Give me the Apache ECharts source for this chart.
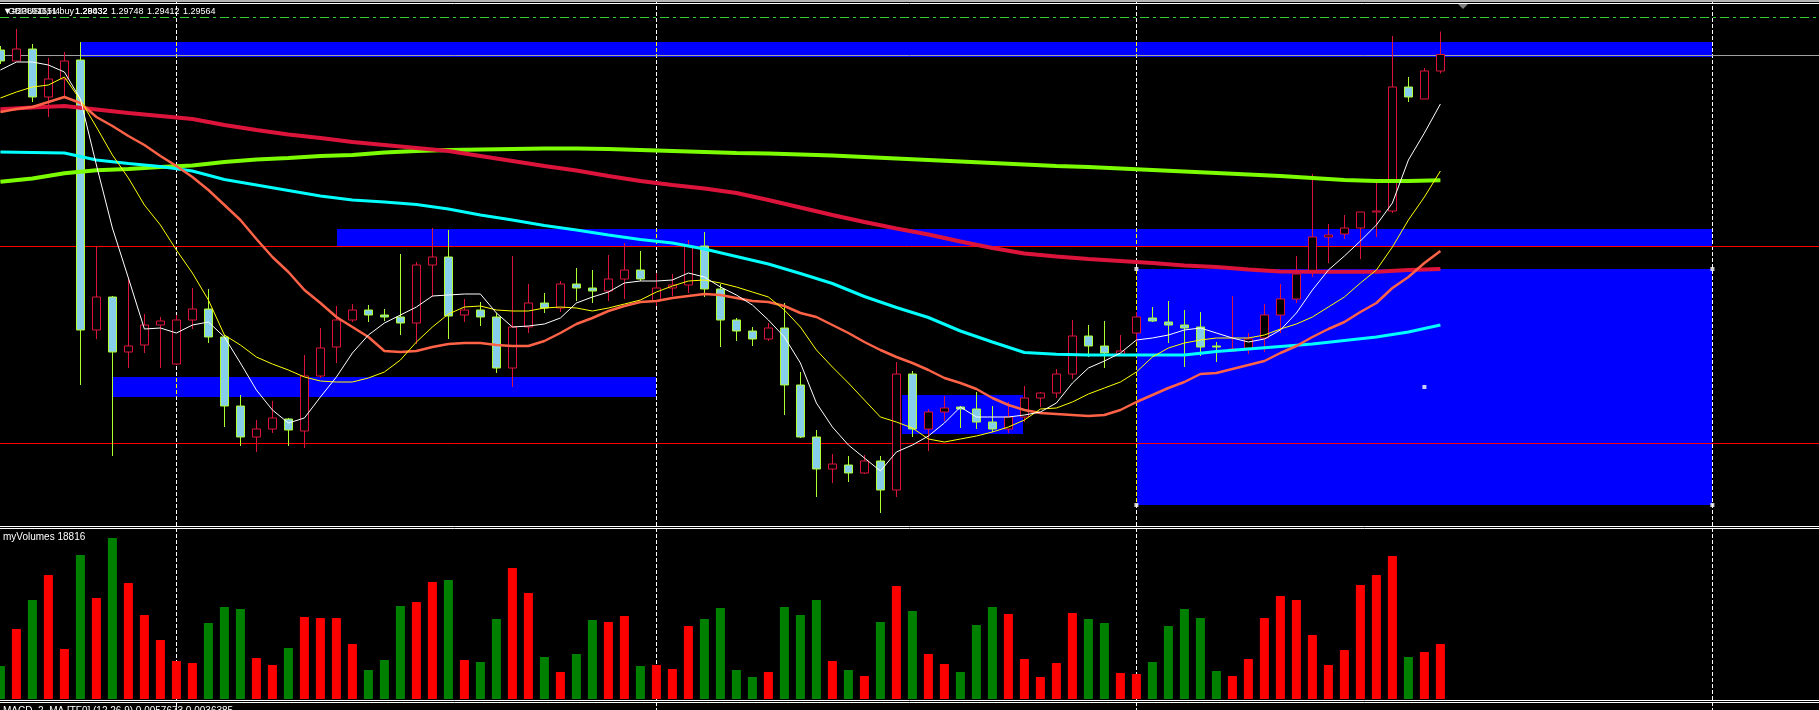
<!DOCTYPE html>
<html><head><meta charset="utf-8">
<script src="https://cdn.jsdelivr.net/npm/echarts@6/dist/echarts.min.js"></script>
<style>html,body{margin:0;padding:0;background:#000;overflow:hidden}#c{width:1819px;height:710px}</style>
</head><body><div id="c"></div>
<script>
// ---------- DATA ----------
const symbolTitle = 'GBPUSD,H4';
const orderTitle = '\u25BC#23891651 buy';
const orderPrice = 1.28032;
const volumeName = 'myVolumes';
const macdLabel = 'MACD_2_MA [TF0] (12,26,9) 0.0057673 0.0036385';

const open = [1.29600,1.29512,1.29608,1.29224,1.29368,1.29520,1.27360,1.27624,1.27184,1.27240,
1.27400,1.27088,1.27440,1.27528,1.27304,1.26752,1.26504,1.26568,1.26648,1.26552,
1.26992,1.27224,1.27440,1.27520,1.27480,1.27464,1.27416,1.27880,1.27944,1.27480,
1.27520,1.27464,1.27056,1.27384,1.27576,1.27536,1.27728,1.27696,1.27672,1.27768,
1.27840,1.27592,1.27696,1.27720,1.28032,1.27688,1.27440,1.27352,1.27288,1.27376,
1.26920,1.26504,1.26248,1.26280,1.26216,1.26312,1.26080,1.27008,1.26568,1.26704,
1.26744,1.26728,1.26624,1.26568,1.26664,1.26816,1.26856,1.27008,1.27312,1.27232,
1.27168,1.27336,1.27456,1.27424,1.27400,1.27384,1.27232,1.27192,1.27216,1.27296,
1.27480,1.27608,1.27824,1.28104,1.28128,1.28176,1.28304,1.28312,1.29304,1.29208,
1.29432];
const high = [1.29632,1.29768,1.29648,1.29536,1.29584,1.29664,1.28032,1.27632,1.27768,1.27488,
1.27464,1.27480,1.27696,1.27688,1.27320,1.26840,1.26640,1.26792,1.26656,1.27160,
1.27376,1.27552,1.27568,1.27560,1.27528,1.27968,1.27904,1.28176,1.28160,1.27608,
1.27584,1.27496,1.27952,1.27728,1.27656,1.27752,1.27856,1.27840,1.27960,1.28056,
1.27992,1.27816,1.27808,1.28080,1.28144,1.27728,1.27456,1.27384,1.27416,1.27576,
1.27024,1.26560,1.26368,1.26352,1.26360,1.26352,1.27104,1.27032,1.26728,1.26832,
1.26752,1.26864,1.26752,1.26784,1.26912,1.26864,1.27048,1.27440,1.27400,1.27432,
1.27320,1.27504,1.27544,1.27592,1.27520,1.27504,1.27264,1.27632,1.27336,1.27568,
1.27728,1.27952,1.28608,1.28208,1.28280,1.28304,1.28536,1.29712,1.29384,1.29456,
1.29748];
const low = [1.29488,1.29512,1.29184,1.29064,1.29224,1.26920,1.27288,1.26352,1.27056,1.27176,
1.27056,1.27080,1.27368,1.27256,1.26584,1.26432,1.26384,1.26536,1.26432,1.26416,
1.26976,1.27096,1.27424,1.27424,1.27432,1.27320,1.27248,1.27624,1.27288,1.27424,
1.27392,1.27016,1.26904,1.27336,1.27496,1.27504,1.27592,1.27576,1.27592,1.27608,
1.27752,1.27552,1.27632,1.27656,1.27624,1.27224,1.27272,1.27232,1.27272,1.26680,
1.26496,1.26024,1.26136,1.26144,1.26208,1.25896,1.26024,1.26504,1.26392,1.26632,
1.26576,1.26568,1.26544,1.26536,1.26624,1.26744,1.26816,1.26968,1.27144,1.27056,
1.27160,1.27264,1.27424,1.27256,1.27064,1.27152,1.27104,1.27184,1.27168,1.27184,
1.27336,1.27576,1.27784,1.27896,1.28088,1.27928,1.28104,1.28296,1.29184,1.29208,
1.29412];
const close = [1.29512,1.29608,1.29224,1.29368,1.29512,1.27360,1.27624,1.27184,1.27232,1.27400,
1.27432,1.27440,1.27528,1.27304,1.26752,1.26504,1.26568,1.26656,1.26560,1.26992,
1.27216,1.27440,1.27520,1.27480,1.27464,1.27416,1.27880,1.27944,1.27472,1.27520,
1.27464,1.27056,1.27384,1.27576,1.27536,1.27728,1.27696,1.27672,1.27768,1.27840,
1.27768,1.27696,1.27720,1.28032,1.27688,1.27440,1.27352,1.27288,1.27376,1.26920,
1.26504,1.26248,1.26288,1.26216,1.26312,1.26080,1.27008,1.26568,1.26704,1.26736,
1.26728,1.26624,1.26568,1.26664,1.26816,1.26856,1.27008,1.27312,1.27232,1.27176,
1.27192,1.27464,1.27432,1.27400,1.27376,1.27224,1.27224,1.27208,1.27288,1.27480,
1.27608,1.27808,1.28104,1.28120,1.28176,1.28304,1.28312,1.29304,1.29224,1.29432,
1.29564];
const volume = [11290,23940,33860,42410,17100,49250,34540,55060,39670,28730,
20180,13000,12310,25990,31460,30780,14020,11630,17440,28040,
27700,27700,18810,9920,13340,31810,33170,40010,40700,13340,
12650,27360,44800,36250,14360,9230,15390,27020,26330,28390,
11290,11630,10260,24970,27360,31120,9920,7520,9230,31460,
28730,33860,13000,9920,7870,26330,38650,30100,15390,11970,
9230,25310,31460,29070,13680,7520,12310,29410,27360,25990,
8890,8550,12650,24970,30780,27700,9580,7870,13680,27700,
35230,33860,21890,11630,16760,38990,42410,48910,14360,16070,
18816];
// moving averages, one value per bar
const maWhite = [1.29440,1.29504,1.29504,1.29480,1.29424,1.29208,1.28680,1.28176,1.27776,1.27368,
1.27376,1.27336,1.27400,1.27424,1.27304,1.27096,1.26880,1.26720,1.26616,1.26656,
1.26824,1.26984,1.27176,1.27320,1.27416,1.27480,1.27544,1.27632,1.27640,1.27648,
1.27648,1.27496,1.27384,1.27392,1.27408,1.27456,1.27576,1.27624,1.27664,1.27736,
1.27752,1.27752,1.27760,1.27816,1.27784,1.27704,1.27640,1.27560,1.27440,1.27304,
1.27096,1.26776,1.26584,1.26440,1.26336,1.26232,1.26384,1.26440,1.26512,1.26616,
1.26744,1.26664,1.26664,1.26664,1.26680,1.26704,1.26776,1.26936,1.27056,1.27112,
1.27176,1.27280,1.27296,1.27320,1.27360,1.27376,1.27336,1.27296,1.27264,1.27288,
1.27360,1.27496,1.27680,1.27840,1.27952,1.28072,1.28200,1.28376,1.28720,1.28936,
1.29168];
const maYellow = [1.29216,1.29264,1.29304,1.29320,1.29384,1.29200,1.28984,1.28760,1.28576,1.28360,
1.28200,1.28000,1.27816,1.27600,1.27320,1.27240,1.27144,1.27088,1.27040,1.26984,
1.26952,1.26944,1.26944,1.26976,1.27024,1.27120,1.27264,1.27384,1.27488,1.27544,
1.27552,1.27520,1.27512,1.27512,1.27536,1.27544,1.27536,1.27512,1.27536,1.27568,
1.27600,1.27664,1.27712,1.27752,1.27760,1.27736,1.27704,1.27664,1.27624,1.27520,
1.27384,1.27200,1.27064,1.26936,1.26800,1.26664,1.26624,1.26576,1.26488,1.26464,
1.26488,1.26512,1.26544,1.26584,1.26640,1.26728,1.26736,1.26784,1.26848,1.26896,
1.26944,1.27024,1.27144,1.27216,1.27256,1.27280,1.27296,1.27296,1.27296,1.27320,
1.27368,1.27408,1.27464,1.27544,1.27624,1.27736,1.27840,1.28024,1.28240,1.28424,
1.28632];
const maTomato = [1.29104,1.29128,1.29144,1.29184,1.29224,1.29176,1.29064,1.28992,1.28912,1.28840,
1.28752,1.28672,1.28584,1.28480,1.28360,1.28240,1.28088,1.27944,1.27824,1.27680,
1.27576,1.27464,1.27384,1.27304,1.27192,1.27184,1.27192,1.27224,1.27248,1.27256,
1.27256,1.27240,1.27232,1.27232,1.27272,1.27336,1.27408,1.27456,1.27512,1.27552,
1.27584,1.27592,1.27616,1.27632,1.27648,1.27640,1.27616,1.27592,1.27584,1.27552,
1.27496,1.27464,1.27400,1.27336,1.27264,1.27200,1.27144,1.27096,1.27040,1.26976,
1.26936,1.26888,1.26816,1.26760,1.26720,1.26696,1.26688,1.26680,1.26672,1.26680,
1.26720,1.26784,1.26840,1.26896,1.26944,1.27008,1.27016,1.27048,1.27080,1.27112,
1.27176,1.27232,1.27304,1.27368,1.27424,1.27504,1.27576,1.27696,1.27784,1.27896,
1.27992];
// slow moving averages, read every second bar
const maCyan = [1.28784,1.28780,1.28776,1.28720,1.28692,1.28668,1.28632,1.28564,1.28520,1.28476,
1.28432,1.28400,1.28384,1.28364,1.28328,1.28280,1.28240,1.28196,1.28160,1.28120,
1.28084,1.28056,1.28008,1.27948,1.27888,1.27812,1.27732,1.27628,1.27540,1.27460,
1.27352,1.27264,1.27180,1.27166,1.27160,1.27160,1.27160,1.27160,1.27188,1.27208,
1.27228,1.27248,1.27276,1.27304,1.27344,1.27400];
const maCrimson = [1.29126,1.29140,1.29152,1.29124,1.29096,1.29072,1.29048,1.29000,1.28960,1.28924,
1.28896,1.28864,1.28840,1.28816,1.28792,1.28752,1.28712,1.28672,1.28636,1.28592,
1.28552,1.28520,1.28492,1.28456,1.28400,1.28340,1.28280,1.28224,1.28172,1.28124,
1.28068,1.28016,1.27972,1.27948,1.27928,1.27912,1.27896,1.27876,1.27864,1.27844,
1.27828,1.27826,1.27826,1.27826,1.27840,1.27848];
const maGreen = [1.28546,1.28572,1.28614,1.28638,1.28648,1.28664,1.28676,1.28704,1.28724,1.28736,
1.28752,1.28760,1.28780,1.28792,1.28800,1.28804,1.28808,1.28812,1.28812,1.28808,
1.28800,1.28792,1.28784,1.28776,1.28772,1.28764,1.28756,1.28744,1.28732,1.28720,
1.28708,1.28696,1.28684,1.28672,1.28664,1.28652,1.28640,1.28628,1.28616,1.28604,
1.28592,1.28576,1.28560,1.28552,1.28552,1.28558];
// zones (bar index from / to, price top / bottom)
const zoneStart = [5, 21, 7, 56.33, 71];
const zoneEnd   = [107, 107, 41, 63.96, 107];
const zoneHigh  = [1.29664, 1.28168, 1.26984, 1.26837, 1.27848];
const zoneLow   = [1.29542, 1.28032, 1.26824, 1.26528, 1.25960];
const selectedZone = 4;
// horizontal price levels
const levelPrices = [1.29864, 1.29564, orderPrice, 1.26456];
// period separators (bar index)
const separators = [11, 41, 71, 107];
const slots = 114;

// ---------- CHART ----------
const chart = echarts.init(document.getElementById('c'), null, {renderer: 'canvas', width: 1819, height: 710});
const N = open.length;
const cats = Array.from({length: slots}, (_, i) => String(i));
const gridLeft = 0.4, gridWidth = (slots - 1) * 16;
const font9 = '9px "Liberation Sans", Arial, sans-serif';
const font10 = '10px "Liberation Sans", Arial, sans-serif';
const levelStyles = [
  {stroke: '#32CD32', lineWidth: 1, lineDash: [9, 4, 3, 4]},
  {stroke: '#A0A0A0', lineWidth: 1},
  {stroke: '#FF0000', lineWidth: 1},
  {stroke: '#FF0000', lineWidth: 1}
];
const DASH = [4, 2];

function maSeries(arr, step, color, width, z) {
  return {type: 'line', xAxisIndex: 1, yAxisIndex: 0, data: arr.map((p, i) => [i * step, p]),
    symbol: 'none', showSymbol: false, lineStyle: {color: color, width: width}, z: z,
    silent: true, emphasis: {disabled: true}, animation: false};
}

const zS = zoneStart[selectedZone], zE = zoneEnd[selectedZone], zH = zoneHigh[selectedZone], zL = zoneLow[selectedZone];
const gridBase = {left: gridLeft, width: gridWidth, outerBoundsMode: 'none', containLabel: false};

const option = {
  backgroundColor: '#000000',
  animation: false,
  grid: [
    Object.assign({top: 4, height: 520}, gridBase),
    Object.assign({top: 529, height: 170}, gridBase),
    Object.assign({top: 0, height: 710}, gridBase)
  ],
  xAxis: [
    {type: 'category', gridIndex: 0, data: cats, boundaryGap: false, show: false},
    {type: 'value', gridIndex: 0, min: 0, max: slots - 1, show: false},
    {type: 'category', gridIndex: 1, data: cats, boundaryGap: false, show: false},
    {type: 'value', gridIndex: 2, min: 0, max: slots - 1, show: false}
  ],
  yAxis: [
    {type: 'value', gridIndex: 0, min: 1.25808, max: 1.29968, show: false, splitLine: {show: false}},
    {type: 'value', gridIndex: 1, min: 0, max: 58140, show: false, splitLine: {show: false}},
    {type: 'value', gridIndex: 2, min: 0, max: 1, show: false, splitLine: {show: false}}
  ],
  series: [
    { // blue zones
      type: 'custom', xAxisIndex: 1, yAxisIndex: 0, z: 1, silent: true,
      data: zoneStart.map((s, i) => [s, zoneEnd[i], zoneHigh[i], zoneLow[i]]),
      encode: {x: [0, 1], y: [2, 3]},
      renderItem: (params, api) => {
        const a = api.coord([api.value(0), api.value(2)]);
        const b = api.coord([api.value(1), api.value(3)]);
        const x0 = Math.ceil(a[0]), x1 = Math.floor(b[0]);
        const y0 = Math.round(a[1]), y1 = Math.round(b[1]);
        return {type: 'rect', shape: {x: x0, y: y0, width: x1 - x0, height: y1 - y0}, style: {fill: '#0000FF'}};
      }
    },
    { // period separators full height
      type: 'custom', xAxisIndex: 3, yAxisIndex: 2, z: 2, silent: true,
      data: separators.map(v => [v, 0]),
      encode: {x: 0, y: 1},
      renderItem: (params, api) => {
        const p = api.coord([api.value(0), 0]);
        const x = Math.round(p[0]) + 0.5;
        const cs = params.coordSys;
        return {type: 'line', shape: {x1: x, y1: cs.y, x2: x, y2: cs.y + cs.height},
          style: {stroke: '#FFFFFF', lineWidth: 1, lineDash: DASH, lineDashOffset: 0}};
      }
    },
    { // separators inverted over zones
      type: 'custom', xAxisIndex: 1, yAxisIndex: 0, z: 3, silent: true,
      data: separators.map(v => [v, zoneHigh[0]]),
      encode: {x: 0, y: 1},
      renderItem: (params, api) => {
        const v = api.value(0);
        const children = [];
        for (let r = 0; r < zoneStart.length; r++) {
          if (zoneStart[r] <= v && v < zoneEnd[r]) {
            const t = api.coord([v, zoneHigh[r]]), b = api.coord([v, zoneLow[r]]);
            const x = Math.round(t[0]) + 0.5, y0 = Math.round(t[1]), y1 = Math.round(b[1]);
            children.push({type: 'line', shape: {x1: x, y1: y0, x2: x, y2: y1},
              style: {stroke: '#FFFF00', lineWidth: 1, lineDash: DASH, lineDashOffset: y0}});
          }
        }
        return {type: 'group', children: children};
      }
    },
    { // horizontal levels
      type: 'custom', xAxisIndex: 1, yAxisIndex: 0, z: 4, silent: true,
      data: levelPrices.map(p => [0, p]),
      encode: {x: 0, y: 1},
      renderItem: (params, api) => {
        const y = Math.round(api.coord([0, api.value(1)])[1]) + 0.5;
        return {type: 'line', shape: {x1: 0, y1: y, x2: 1819, y2: y}, style: levelStyles[params.dataIndex]};
      }
    },
    { // candles
      type: 'candlestick', xAxisIndex: 0, yAxisIndex: 0, z: 5, silent: true,
      barWidth: 9, clip: false,
      data: open.map((o, i) => [o, close[i], low[i], high[i]]),
      itemStyle: {color: '#000000', color0: '#87CEEB', borderColor: '#DC143C', borderColor0: '#ADFF2F', borderWidth: 1},
      emphasis: {disabled: true}
    },
    maSeries(maGreen, 2, '#7CFC00', 4, 6),
    maSeries(maCrimson, 2, '#DC143C', 4, 6),
    maSeries(maCyan, 2, '#00FFFF', 3, 6),
    maSeries(maTomato, 1, '#FF6347', 2.5, 7),
    maSeries(maYellow, 1, '#FFFF00', 1, 8),
    maSeries(maWhite, 1, '#FFFFFF', 1, 9),
    { // selected zone handles
      type: 'scatter', xAxisIndex: 1, yAxisIndex: 0, z: 10, silent: true,
      symbol: 'rect', symbolSize: 4,
      data: [[zS, zH], [zE, zH], [zS, zL], [zE, zL], [(zS + zE) / 2, (zH + zL) / 2]],
      itemStyle: {color: '#FFFFFF'}
    },
    { // volumes
      type: 'bar', xAxisIndex: 2, yAxisIndex: 1, z: 5, silent: true, barWidth: 9, clip: false,
      data: volume.map((v, i) => ({value: v, itemStyle: {color: close[i] < open[i] ? '#008000' : '#FF0000'}})),
      emphasis: {disabled: true}
    }
  ],
  graphic: [
    {type: 'rect', silent: true, z: 100, shape: {x: 0, y: 0, width: 1819, height: 2}, style: {fill: '#B4B4B4'}},
    {type: 'line', silent: true, z: 100, shape: {x1: 0, y1: 3.5, x2: 1819, y2: 3.5}, style: {stroke: '#FFFFFF', lineWidth: 1}},
    {type: 'line', silent: true, z: 100, shape: {x1: 0, y1: 526.5, x2: 1819, y2: 526.5}, style: {stroke: '#FFFFFF', lineWidth: 1}},
    {type: 'line', silent: true, z: 100, shape: {x1: 0, y1: 528.5, x2: 1819, y2: 528.5}, style: {stroke: '#FFFFFF', lineWidth: 1}},
    {type: 'line', silent: true, z: 100, shape: {x1: 0, y1: 700.5, x2: 1819, y2: 700.5}, style: {stroke: '#FFFFFF', lineWidth: 1}},
    {type: 'line', silent: true, z: 100, shape: {x1: 0, y1: 702.5, x2: 1819, y2: 702.5}, style: {stroke: '#FFFFFF', lineWidth: 1}},
    {type: 'polygon', silent: true, z: 100, shape: {points: [[1458, 4], [1468, 4], [1463, 9]]}, style: {fill: '#808080'}},
    {type: 'text', silent: true, z: 101, style: {text: orderTitle, x: 3, y: 12, fill: '#FFFFFF', font: font9, verticalAlign: 'middle'}},
    {type: 'text', silent: true, z: 101, style: {text: symbolTitle, x: 8, y: 12, fill: '#FFFFFF', font: font9, verticalAlign: 'middle'}},
    {type: 'text', silent: true, z: 101, style: {text: orderPrice.toFixed(5), x: 75, y: 12, fill: '#FFFFFF', font: font9, verticalAlign: 'middle'}},
    {type: 'text', silent: true, z: 101, style: {text: open[N - 1].toFixed(5), x: 75, y: 12, fill: '#FFFFFF', font: font9, verticalAlign: 'middle'}},
    {type: 'text', silent: true, z: 101, style: {text: high[N - 1].toFixed(5), x: 111, y: 12, fill: '#FFFFFF', font: font9, verticalAlign: 'middle'}},
    {type: 'text', silent: true, z: 101, style: {text: low[N - 1].toFixed(5), x: 147, y: 12, fill: '#FFFFFF', font: font9, verticalAlign: 'middle'}},
    {type: 'text', silent: true, z: 101, style: {text: close[N - 1].toFixed(5), x: 183, y: 12, fill: '#FFFFFF', font: font9, verticalAlign: 'middle'}},
    {type: 'text', silent: true, z: 101, style: {text: volumeName + ' ' + volume[N - 1], x: 3, y: 537, fill: '#FFFFFF', font: font10, verticalAlign: 'middle'}},
    {type: 'text', silent: true, z: 101, style: {text: macdLabel, x: 3, y: 711, fill: '#FFFFFF', font: font10, verticalAlign: 'middle'}}
  ]
};
chart.setOption(option);
</script>
</body></html>
